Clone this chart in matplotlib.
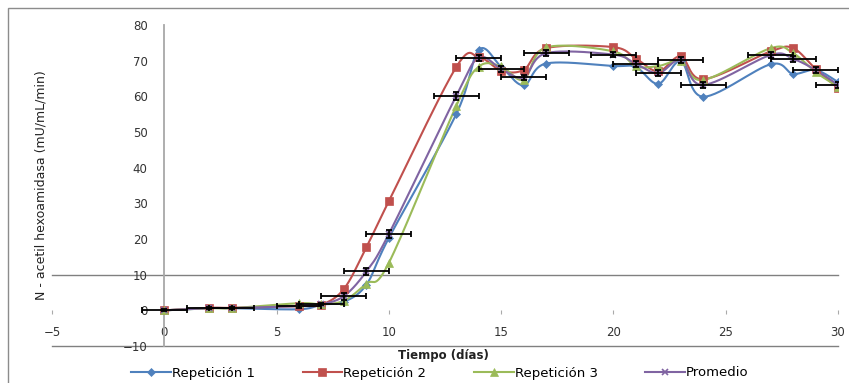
import numpy as np
import matplotlib
matplotlib.use("Agg")
import matplotlib.pyplot as plt
from matplotlib.lines import Line2D
from matplotlib.patches import Rectangle

# ---- data ----
dias = [0, 2, 3, 6, 7, 8, 9, 10, 13, 14, 15, 16, 17, 20, 21, 22, 23, 24, 27, 28, 29, 30]
rep1 = [0, 0.6, 0.6, 0.3, 1.6, 2.4, 7.2, 20.3, 55.0, 73.0, 68.3, 63.1, 69.2, 68.5, 68.2, 63.5, 69.8, 59.9, 69.0, 66.3, 67.4, 64.0]
rep2 = [0, 0.7, 0.7, 1.2, 1.6, 6.0, 17.7, 30.6, 68.2, 71.0, 67.2, 67.4, 73.5, 73.8, 70.6, 67.0, 71.2, 64.8, 72.6, 73.5, 67.7, 62.3]
rep3 = [0, 0.6, 0.6, 2.0, 1.7, 2.7, 7.5, 13.3, 57.3, 68.3, 68.4, 64.7, 73.7, 72.6, 68.4, 68.5, 69.8, 64.6, 73.5, 72.1, 66.8, 62.7]
prom = [0, 0.65, 0.65, 1.2, 1.7, 4.0, 10.9, 21.4, 60.1, 70.8, 67.7, 65.3, 72.1, 71.7, 69.1, 66.5, 70.2, 63.2, 71.6, 70.5, 67.4, 63.2]
prom_xerr = [1] * len(dias)
prom_yerr = [0.3, 0.3, 0.3, 0.5, 0.3, 1.0, 1.0, 1.0, 1.0, 0.8, 0.8, 0.8, 0.8, 0.8, 0.8, 0.8, 0.8, 0.8, 0.8, 0.8, 0.8, 0.8]

labels = ["Repetición 1", "Repetición 2", "Repetición 3", "Promedio"]
colors = ["#4F81BD", "#C0504D", "#9BBB59", "#8064A2"]
markers = ["D", "s", "^", "x"]
msizes = [4.5, 5.5, 6, 5]
xticks = [-5, 0, 5, 10, 15, 20, 25, 30]
yticks = [-10, 0, 10, 20, 30, 40, 50, 60, 70, 80]


def smooth(x, y, n=30):
    x = np.asarray(x, float)
    y = np.asarray(y, float)
    P = np.column_stack([x, y])
    out = [P[0]]
    m = len(P)
    for i in range(m - 1):
        p0 = P[i - 1] if i > 0 else P[i]
        p1 = P[i]
        p2 = P[i + 1]
        p3 = P[i + 2] if i + 2 < m else P[i + 1]
        c1 = p1 + (p2 - p0) / 6.0
        c2 = p2 - (p3 - p1) / 6.0
        t = np.linspace(0, 1, n)[1:, None]
        seg = ((1 - t) ** 3) * p1 + 3 * ((1 - t) ** 2) * t * c1 + 3 * (1 - t) * t * t * c2 + (t ** 3) * p2
        out.extend(seg)
    out = np.array(out)
    return out[:, 0], out[:, 1]


fig = plt.figure(figsize=(8.49, 3.83), dpi=100)
ax = fig.add_axes([52 / 849, 1 - 346 / 383, (838 - 52) / 849, (346 - 25) / 383])

ax.set_xlim(-5, 30)
ax.set_ylim(-10, 80)

# reference lines
ax.axhline(10, color="#808080", lw=1.0, zorder=1, clip_on=False)
ax.axhline(-10, color="#808080", lw=1.0, zorder=1, clip_on=False)

for s in ["top", "right"]:
    ax.spines[s].set_visible(False)
ax.spines["left"].set_position(("data", 0))
ax.spines["left"].set_color("#a8a8a8")
ax.spines["left"].set_linewidth(1.3)
ax.spines["bottom"].set_position(("data", 0))
ax.spines["bottom"].set_visible(False)

ax.set_xticks(xticks)
ax.set_yticks(yticks)
ax.tick_params(axis="y", length=0, pad=12, labelsize=8.5, labelcolor="#333333")
ax.tick_params(axis="x", length=3, direction="out", color="#aaaaaa", pad=8,
               labelsize=8.5, labelcolor="#333333")

series = [rep1, rep2, rep3, prom]
for vals, lab, c, mk, ms in zip(series, labels, colors, markers, msizes):
    sx, sy = smooth(dias, vals)
    ax.plot(sx, sy, color=c, lw=1.5, zorder=3)
    ax.plot(dias, vals, linestyle="none", marker=mk, color=c, ms=ms,
            mew=1.2 if mk == "x" else 0.5, zorder=4)

ax.errorbar(dias, prom, xerr=prom_xerr, yerr=prom_yerr, fmt="none",
            ecolor="black", elinewidth=1.3, capsize=2.5, capthick=1.3, zorder=5)

fig.text(443 / 849, 1 - 356 / 383, "Tiempo (días)", ha="center", va="center",
         fontsize=8.5, fontweight="bold", color="#222222")
fig.text(41 / 849, 1 - 185 / 383, "N - acetil hexoamidasa (mU/mL/min)", rotation=90,
         ha="center", va="center", fontsize=9,
         family=["Liberation Sans Narrow", "DejaVu Sans"], color="#222222")

handles = [Line2D([0], [0], color=c, lw=1.5, marker=mk, ms=ms, mew=1.2 if mk == "x" else 0.5)
           for c, mk, ms in zip(colors, markers, msizes)]
fig.legend(handles, labels, loc="center", bbox_to_anchor=(440 / 849, 1 - 373 / 383), ncol=4,
           frameon=False, fontsize=9.5, handlelength=3.0, columnspacing=3.6, handletextpad=0.1,
           borderaxespad=0)

fig.patches.append(Rectangle((8 / 849, -0.05), 1.2, 1 - 8 / 383 + 0.05, transform=fig.transFigure,
                             fill=False, edgecolor="#8c8c8c", lw=1.0))

fig.savefig("out.png", dpi=100)
